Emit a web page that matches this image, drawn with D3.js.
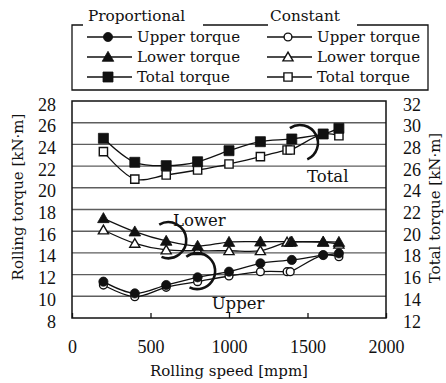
<!DOCTYPE html>
<html>
<head>
<meta charset="utf-8">
<script src="https://cdn.jsdelivr.net/npm/d3@7/dist/d3.min.js"></script>
<style>
  html, body { margin: 0; padding: 0; background: #fff; }
  svg { display: block; }
  text { font-family: "DejaVu Serif", "Liberation Serif", serif; fill: #111; }
</style>
</head>
<body>
<svg id="chart" width="446" height="383"></svg>
<script>
// Rolling speed [mpm] for each measurement
const speedsProp = [200, 400, 600, 800, 1000, 1200, 1400, 1600, 1700];
const speedsConst = [200, 400, 600, 800, 1000, 1200, 1370, 1390, 1600, 1700];

// Proportional case (left axis: upper/lower, right axis: total) [kN·m]
const upperProp = [11.35, 10.27, 11.04, 11.75, 12.27, 13.04, 13.35, 13.8, 13.96];
const lowerProp = [17.19, 15.96, 15.1, 14.64, 15.0, 15.03, 15.03, 15.03, 15.0];
const totalProp = [28.56, 26.35, 26.04, 26.4, 27.42, 28.25, 28.5, 28.96, 29.48];

// Constant case
const upperConst = [11.04, 9.96, 10.83, 11.35, 11.87, 12.27, 12.27, 12.27, 13.8, 13.65];
const lowerConst = [16.11, 14.88, 14.27, 14.2, 14.2, 14.2, 15.0, 15.0, 15.0, 14.8];
const totalConst = [27.33, 24.8, 25.18, 25.64, 26.19, 26.87, 27.48, 27.48, 28.96, 28.8];

// Axis ticks
const xTicks = [0, 500, 1000, 1500, 2000];
const yLeftTicks = [8, 10, 12, 14, 16, 18, 20, 22, 24, 26, 28];
const yRightTicks = [12, 14, 16, 18, 20, 22, 24, 26, 28, 30, 32];

// Group annotations: [label, speed, torque (left axis)]
const groupLabels = [
  ["Total", 1497, 20.5],
  ["Lower", 644, 16.5],
  ["Upper", 890, 8.8]
];
// Bracket arcs around each group: [speed, torque (left axis), start°, end°]
const groupArcs = [
  [1452, 24.13, -124, 66],
  [613, 15.17, -120, 112],
  [797, 12.32, -127, 115]
];

const svg = d3.select("#chart");
const M = { left: 72, right: 386, top: 101, bottom: 318 };

const x = d3.scaleLinear().domain([0, 2000]).range([M.left, M.right]);
const yL = d3.scaleLinear().domain([8, 28]).range([M.bottom, M.top]);
const yR = d3.scaleLinear().domain([12, 32]).range([M.bottom, M.top]);

// Horizontal gridlines
svg.append("g").selectAll("line")
  .data(yLeftTicks.filter(v => v > 8 && v < 28))
  .join("line")
  .attr("x1", M.left).attr("x2", M.right)
  .attr("y1", d => yL(d)).attr("y2", d => yL(d))
  .attr("stroke", "#5e5e5e").attr("stroke-width", 1.4);

// Axes
const gx = svg.append("g").attr("transform", `translate(0,${M.bottom})`)
  .call(d3.axisBottom(x).tickValues(xTicks).tickFormat(d3.format("d"))
    .tickSizeInner(-5).tickSizeOuter(0).tickPadding(22));
const gl = svg.append("g").attr("transform", `translate(${M.left},0)`)
  .call(d3.axisLeft(yL).tickValues(yLeftTicks).tickSize(0).tickPadding(16));
const gr = svg.append("g").attr("transform", `translate(${M.right},0)`)
  .call(d3.axisRight(yR).tickValues(yRightTicks).tickSize(0).tickPadding(17));
[gx, gl, gr].forEach(g => {
  g.select(".domain").remove();
  g.selectAll("line").attr("stroke", "#111").attr("stroke-width", 1.3);
  g.selectAll("text").style("font-size", "18px")
    .style("font-family", "'Liberation Serif', serif").attr("fill", "#111");
});
gl.selectAll("text").attr("dy", "0.5em");
gr.selectAll("text").attr("dy", "0.5em");

// Plot frame
svg.append("rect")
  .attr("x", M.left).attr("y", M.top)
  .attr("width", M.right - M.left).attr("height", M.bottom - M.top)
  .attr("fill", "none").attr("stroke", "#111").attr("stroke-width", 1.5);

// Axis titles
svg.append("text").attr("x", x(1000)).attr("y", 376)
  .attr("text-anchor", "middle").style("font-size", "15px")
  .text("Rolling speed [mpm]");
svg.append("text")
  .attr("transform", `translate(23,197) rotate(-90)`)
  .attr("text-anchor", "middle").style("font-size", "15px")
  .text("Rolling torque [kN·m]");
svg.append("text")
  .attr("transform", `translate(440,208) rotate(-90)`)
  .attr("text-anchor", "middle").style("font-size", "15px")
  .text("Total torque [kN·m]");

// Series definitions
const curve = d3.curveCatmullRom.alpha(0.5);
const series = [
  { xs: speedsConst, ys: upperConst, sc: yL, sym: d3.symbolCircle, filled: false },
  { xs: speedsConst, ys: lowerConst, sc: yL, sym: d3.symbolTriangle, filled: false },
  { xs: speedsConst, ys: totalConst, sc: yR, sym: d3.symbolSquare, filled: false },
  { xs: speedsProp, ys: upperProp, sc: yL, sym: d3.symbolCircle, filled: true },
  { xs: speedsProp, ys: lowerProp, sc: yL, sym: d3.symbolTriangle, filled: true },
  { xs: speedsProp, ys: totalProp, sc: yR, sym: d3.symbolSquare, filled: true }
];
function symSize(sym, filled) {
  if (sym === d3.symbolCircle) return filled ? 66 : 48;
  if (sym === d3.symbolSquare) return filled ? 100 : 68;
  return filled ? 58 : 44;
}

const plot = svg.append("g");
series.forEach(s => {
  const pts = s.xs.map((v, i) => [v, s.ys[i]]);
  plot.append("path")
    .attr("d", d3.line().x(d => x(d[0])).y(d => s.sc(d[1])).curve(curve)(pts))
    .attr("fill", "none").attr("stroke", "#111").attr("stroke-width", 1.3);
});
series.forEach(s => {
  const pts = s.xs.map((v, i) => [v, s.ys[i]]);
  plot.append("g").selectAll("path").data(pts).join("path")
    .attr("transform", d => `translate(${x(d[0])},${s.sc(d[1]) + (s.sym === d3.symbolTriangle ? 1 : 0)})`)
    .attr("d", d3.symbol().type(s.sym).size(symSize(s.sym, s.filled)))
    .attr("fill", s.filled ? "#111" : "#fff")
    .attr("stroke", "#111").attr("stroke-width", s.filled ? 0.8 : 1.4);
});

// Group bracket arcs and labels
groupArcs.forEach(a => {
  const p = d3.path();
  const cx = x(a[0]), cy = yL(a[1]);
  const r = 18;
  const a0 = a[2] * Math.PI / 180, a1 = a[3] * Math.PI / 180;
  p.moveTo(cx + r * Math.cos(a0), cy + r * Math.sin(a0));
  p.arc(cx, cy, r, a0, a1, false);
  svg.append("path").attr("d", p.toString())
    .attr("fill", "none").attr("stroke", "#111").attr("stroke-width", 2.6);
});
groupLabels.forEach(l => {
  svg.append("text").attr("x", x(l[1])).attr("y", yL(l[2]))
    .style("font-size", "16.5px").text(l[0]);
});

// Legend
const lg = svg.append("g");
const box = { x0: 72, x1: 428, y0: 25, y1: 90 };
const lineStyle = s => s.attr("stroke", "#111").attr("stroke-width", 1.3);
lineStyle(lg.append("path").attr("fill", "none")
  .attr("d", `M${box.x0 + 11},${box.y0} H${box.x0} V${box.y1} H${box.x1} V${box.y0} H357 M268,${box.y0} H203`));
lg.append("text").attr("x", 88).attr("y", 21).style("font-size", "15.3px").text("Proportional");
lg.append("text").attr("x", 270).attr("y", 21).style("font-size", "15.3px").text("Constant");

const legendNames = ["Upper torque", "Lower torque", "Total torque"];
const legendSyms = [d3.symbolCircle, d3.symbolTriangle, d3.symbolSquare];
const rowY = [37, 57, 77];
[{ x0: 87, filled: true }, { x0: 267, filled: false }].forEach(col => {
  legendNames.forEach((name, i) => {
    const yy = rowY[i];
    lineStyle(lg.append("line").attr("x1", col.x0).attr("x2", col.x0 + 45)
      .attr("y1", yy).attr("y2", yy));
    lg.append("path")
      .attr("transform", `translate(${col.x0 + 21},${yy + (legendSyms[i] === d3.symbolTriangle ? 1 : 0)})`)
      .attr("d", d3.symbol().type(legendSyms[i]).size(symSize(legendSyms[i], col.filled)))
      .attr("fill", col.filled ? "#111" : "#fff")
      .attr("stroke", "#111").attr("stroke-width", col.filled ? 0.8 : 1.4);
    lg.append("text").attr("x", col.x0 + 50).attr("y", yy + 5)
      .style("font-size", "15px").text(name);
  });
});
</script>
</body>
</html>
